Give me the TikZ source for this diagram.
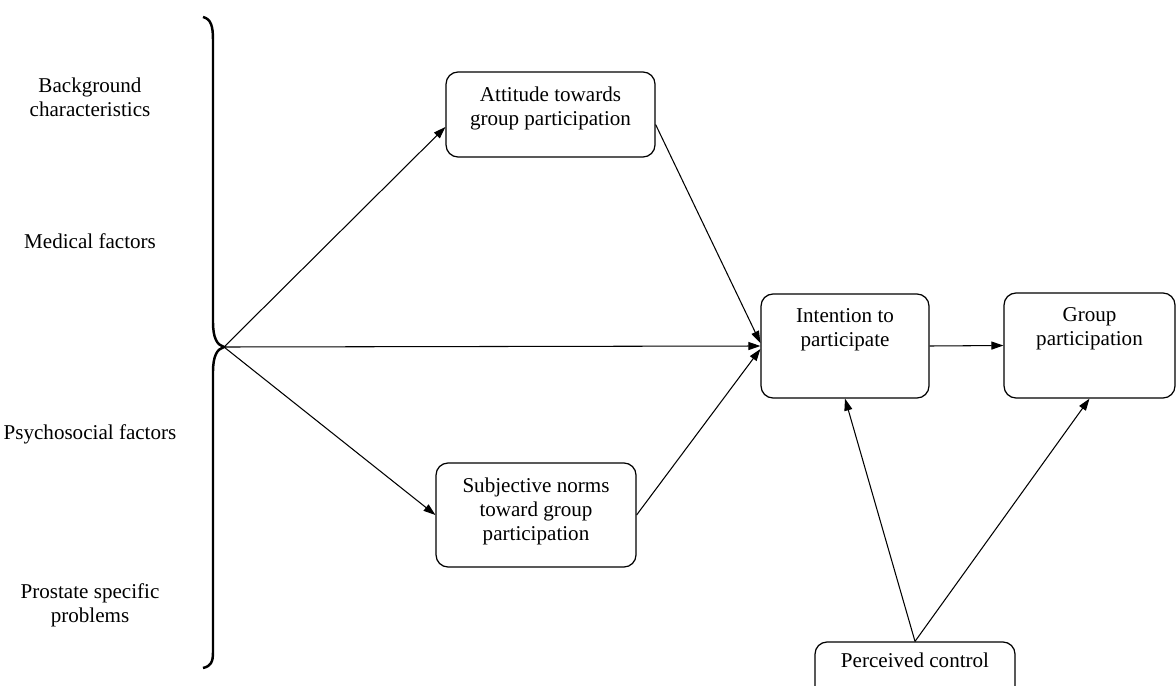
\documentclass[tikz,border=0pt]{standalone}
\usepackage{fontspec}
\setmainfont{Liberation Serif}
\usetikzlibrary{arrows.meta}
\tikzset{
  box/.style={draw, line width=0.7pt, rounded corners=0.24cm, inner sep=0pt},
  boxtext/.style={anchor=north, align=center, inner sep=0pt, yshift=-0.3cm,
                  font=\fontsize{12}{13.7}\selectfont},
  factor/.style={align=center, inner sep=0pt, font=\fontsize{12}{13.7}\selectfont},
  link/.style={-{Triangle[length=0.24cm,width=0.16cm]}, line width=0.6pt},
}

\begin{document}
\begin{tikzpicture}[x=0.02cm, y=-0.02cm]
  \clip (0,0) rectangle (1176,686);

  % factors on the left
  \node[factor] (bg)  at (90,97)  {Background\\characteristics};
  \node[factor] (med) at (90,241) {Medical factors};
  \node[factor] (psy) at (90,434) {Psychosocial factors};
  \node[factor] (pro) at (90,605) {Prostate specific\\problems};

  % brace
  \coordinate (tip) at (224,347);
  \draw[line width=1.4pt] (203,17) .. controls (211,19) and (213,26) .. (213,40)
    -- (213,322) .. controls (213,338) and (217,345) .. (tip)
    .. controls (217,349) and (213,356) .. (213,372)
    -- (213,652) .. controls (213,662) and (211,666) .. (203,668);

  % boxes
  \node[box, minimum width=4.18cm, minimum height=1.7cm,
        label={[boxtext]north:{Attitude towards\\group participation}}] (att) at (550.5,114.5) {};
  \node[box, minimum width=4.0cm, minimum height=2.08cm,
        label={[boxtext]north:{Subjective norms\\toward group\\participation}}] (subj) at (536,515) {};
  \node[box, minimum width=3.36cm, minimum height=2.08cm,
        label={[boxtext]north:{Intention to\\participate}}] (int) at (845,346) {};
  \node[box, minimum width=3.42cm, minimum height=2.1cm,
        label={[boxtext]north:{Group\\participation}}] (grp) at (1089.5,345.5) {};
  \node[box, minimum width=4.0cm, minimum height=1.4cm,
        label={[boxtext, yshift=0.08cm]north:{Perceived control}}] (pc) at (915,677) {};

  % arrows
  \draw[link] (tip) -- ([yshift=-0.25cm]att.west);
  \draw[link] (tip) -- (int.west);
  \draw[link] (tip) -- (subj.west);
  \draw[link] ([yshift=-0.2cm]att.east) -- ([yshift=0.06cm]int.west);
  \draw[link] (subj.east) -- ([yshift=-0.06cm]int.west);
  \draw[link] (int.east) -- (grp.west);
  \draw[link] (pc.north) -- (int.south);
  \draw[link] (pc.north) -- (grp.south);
\end{tikzpicture}
\end{document}
